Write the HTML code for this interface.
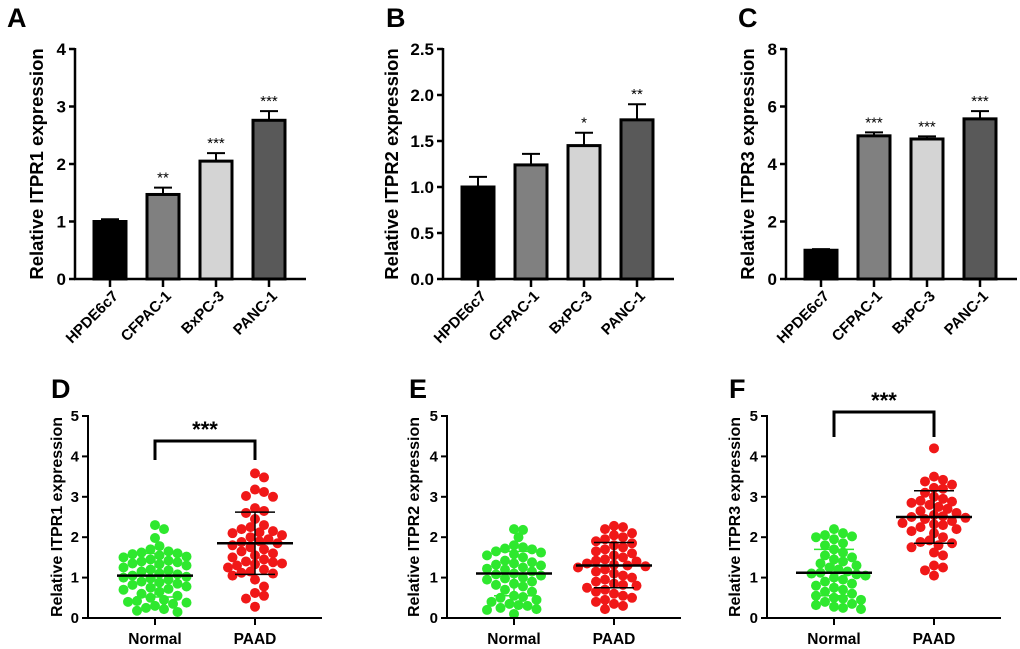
<!DOCTYPE html>
<html><head><meta charset="utf-8"><style>
html,body{margin:0;padding:0;background:#fff;}
svg{display:block;font-family:"Liberation Sans",Arial,sans-serif;font-weight:bold;}
</style></head>
<body>
<svg id="fig" width="1020" height="649" viewBox="0 0 1020 649"></svg>
<script>
// ---- bar chart data ----
const barCategories = ["HPDE6c7","CFPAC-1","BxPC-3","PANC-1"];
const barColors = ["#000000","#808080","#d4d4d4","#595959"];
const itpr1Means = [1.0,1.47,2.05,2.76];
const itpr1Errors = [0.04,0.12,0.14,0.16];
const itpr1Stars = ["","**","***","***"];
const itpr2Means = [1.0,1.24,1.45,1.73];
const itpr2Errors = [0.11,0.12,0.14,0.17];
const itpr2Stars = ["","","*","**"];
const itpr3Means = [1.0,4.98,4.87,5.57];
const itpr3Errors = [0.04,0.12,0.09,0.27];
const itpr3Stars = ["","***","***","***"];
const ticksA = [0,1,2,3,4];
const ticksB = [0,0.5,1.0,1.5,2.0,2.5];
const ticksC = [0,2,4,6,8];
// ---- scatter data ----
const scatterCategories = ["Normal","PAAD"];
const ticksScatter = [0,1,2,3,4,5];
const dNormal = [2.3,2.2,1.98,1.78,1.7,1.65,1.62,1.6,1.58,1.55,1.52,1.5,1.45,1.42,1.4,1.38,1.35,1.33,1.3,1.25,1.2,1.18,1.15,1.1,1.08,1.05,1.02,1.0,0.98,0.95,0.9,0.88,0.85,0.82,0.78,0.75,0.72,0.7,0.65,0.6,0.55,0.5,0.45,0.42,0.4,0.38,0.35,0.3,0.25,0.22,0.18,0.15];
const dPAAD = [3.58,3.48,3.18,3.12,3.02,3.0,2.72,2.65,2.6,2.45,2.3,2.25,2.2,2.15,2.12,2.1,2.05,2.0,1.95,1.9,1.88,1.85,1.8,1.75,1.7,1.65,1.6,1.55,1.5,1.45,1.4,1.38,1.35,1.33,1.3,1.25,1.2,1.15,1.12,1.1,1.05,0.95,0.78,0.62,0.55,0.48,0.28];
const eNormal = [2.2,2.18,2.0,1.8,1.75,1.72,1.7,1.65,1.62,1.58,1.55,1.5,1.42,1.38,1.35,1.32,1.3,1.25,1.22,1.2,1.15,1.1,1.08,1.05,1.0,0.98,0.95,0.9,0.85,0.82,0.78,0.7,0.65,0.55,0.52,0.5,0.45,0.4,0.35,0.32,0.3,0.25,0.22,0.2,0.1];
const ePAAD = [2.28,2.25,2.2,2.1,2.05,2.0,1.95,1.9,1.85,1.8,1.75,1.7,1.65,1.6,1.55,1.5,1.45,1.42,1.4,1.35,1.32,1.3,1.28,1.25,1.2,1.15,1.1,1.05,1.0,0.95,0.9,0.85,0.82,0.8,0.75,0.7,0.65,0.6,0.55,0.5,0.45,0.4,0.35,0.3,0.22];
const fNormal = [2.2,2.1,2.05,2.02,2.0,1.95,1.85,1.8,1.7,1.62,1.55,1.5,1.45,1.4,1.35,1.3,1.25,1.2,1.15,1.12,1.1,1.08,1.05,1.0,0.95,0.9,0.85,0.8,0.75,0.7,0.65,0.6,0.55,0.5,0.48,0.45,0.4,0.35,0.32,0.28,0.25,0.22];
const fPAAD = [4.2,3.5,3.42,3.38,3.3,3.22,3.2,3.1,3.0,2.95,2.9,2.88,2.85,2.8,2.75,2.7,2.65,2.6,2.55,2.52,2.5,2.48,2.45,2.4,2.35,2.32,2.3,2.25,2.2,2.15,2.1,2.0,1.92,1.88,1.85,1.8,1.75,1.62,1.55,1.3,1.25,1.18,1.05];
const dSummary = [[1.05,0.52,1.6],[1.85,1.08,2.62]];
const eSummary = [[1.1,0.55,1.65],[1.3,0.75,1.87]];
const fSummary = [[1.12,0.55,1.7],[2.5,1.85,3.15]];

const NS="http://www.w3.org/2000/svg";
const svg=document.getElementById('fig');
function mk(tag,attrs,parent,text){const e=document.createElementNS(NS,tag);for(const k in attrs)e.setAttribute(k,attrs[k]);if(text!==undefined)e.textContent=text;(parent||svg).appendChild(e);return e;}

function panelLetter(letter,x,y){
  const t=mk('text',{x:x,y:y,'font-size':27});
  t.textContent=letter;
  
  
}

function barPanel(id,ax,ymax,ticks,means,errs,stars,title,titleX,tickFmt){
  const g=mk('g',{});
  
  
  const y0=279,yTop=49,xEnd=ax+231;
  const ys=v=>y0-(v/ymax)*(y0-yTop);
  const xs=i=>ax+35+i*53;
  ticks.forEach(v=>{
    mk('line',{x1:ax-6,x2:ax,y1:ys(v),y2:ys(v),stroke:'#000','stroke-width':2.5},g);
    const t=mk('text',{x:ax-9,y:ys(v)+6,'text-anchor':'end','font-size':17},g,tickFmt(v));
    
    
  });
  means.forEach((m,i)=>{
    const cx=xs(i);
    const eTop=ys(m+errs[i]);
    mk('line',{x1:cx,x2:cx,y1:ys(m),y2:eTop,stroke:'#000','stroke-width':2},g);
    mk('line',{x1:cx-9,x2:cx+9,y1:eTop,y2:eTop,stroke:'#000','stroke-width':2},g);
    const r=mk('rect',{x:cx-16,y:ys(m),width:32,height:y0-ys(m),fill:barColors[i],stroke:'#000','stroke-width':3},g);
    
    
    if(stars[i]){
      const s=mk('text',{x:cx,y:eTop-5,'text-anchor':'middle','font-size':15,'font-weight':'normal'},g,stars[i]);
      
      
    }
    mk('line',{x1:cx,x2:cx,y1:y0,y2:y0+8,stroke:'#000','stroke-width':2.5},g);
    const lt=mk('text',{x:cx+9,y:y0+18,'text-anchor':'end','font-size':15,transform:`rotate(-45 ${cx+9} ${y0+18})`},g,barCategories[i]);
    
    
  });
  mk('line',{x1:ax,x2:ax,y1:yTop-1,y2:y0,stroke:'#000','stroke-width':2.5},g);
  mk('line',{x1:ax-1,x2:xEnd,y1:y0,y2:y0,stroke:'#000','stroke-width':2.5},g);
  const yt=mk('text',{x:titleX,y:164,'text-anchor':'middle','font-size':18.5,transform:`rotate(-90 ${titleX} 164)`},g,title);
  
  
}

function swarm(vals,cx,ys){
  const placed=[];const d=8.5;
  const cands=[0];for(let k=1;k<=8;k++){cands.push(k*4.5);cands.push(-k*4.5);}
  vals.forEach(v=>{
    const y=ys(v);
    let best=null,bestD=-1;
    for(const off of cands){
      const x=cx+off;
      let md=1e9;placed.forEach(p=>{const dd=Math.hypot(p[0]-x,p[1]-y);if(dd<md)md=dd;});
      if(md>=d){best=x;break;}
      if(md>bestD){bestD=md;best=x;}
    }
    placed.push([best,y]);
  });
  return placed;
}

function scatterPanel(id,ax,groups,summary,title,titleX,bracket){
  const g=mk('g',{});
  
  
  const y0=618,yTop=416,ymax=5,xEnd=ax+234;
  const ys=v=>y0-(v/ymax)*(y0-yTop);
  const xs=i=>ax+67+i*100;
  const colors=['#2ee82e','#f01818'];
  const sdCol=['#2ee82e','#000'];
  ticksScatter.forEach(v=>{
    mk('line',{x1:ax-6,x2:ax,y1:ys(v),y2:ys(v),stroke:'#000','stroke-width':2},g);
    const t=mk('text',{x:ax-9,y:ys(v)+5,'text-anchor':'end','font-size':15},g,String(v));
    
    
  });
  groups.forEach((vals,i)=>{
    const cx=xs(i);
    swarm(vals,cx,ys).forEach(p=>{
      const c=mk('circle',{cx:p[0],cy:p[1],r:5,fill:colors[i]},g);
      
      
    });
    const [m,lo,hi]=summary[i];
    mk('line',{x1:cx,x2:cx,y1:ys(lo),y2:ys(hi),stroke:sdCol[i],'stroke-width':1.5},g);
    mk('line',{x1:cx-20,x2:cx+20,y1:ys(lo),y2:ys(lo),stroke:sdCol[i],'stroke-width':1.5},g);
    mk('line',{x1:cx-20,x2:cx+20,y1:ys(hi),y2:ys(hi),stroke:sdCol[i],'stroke-width':1.5},g);
    const ml=mk('line',{x1:cx-38,x2:cx+38,y1:ys(m),y2:ys(m),stroke:'#000','stroke-width':2.5},g);
    
    
    mk('line',{x1:cx,x2:cx,y1:y0,y2:y0+7,stroke:'#000','stroke-width':2},g);
    const lt=mk('text',{x:cx,y:y0+26,'text-anchor':'middle','font-size':15.5},g,scatterCategories[i]);
    
    
  });
  mk('line',{x1:ax,x2:ax,y1:yTop-1,y2:y0,stroke:'#000','stroke-width':2},g);
  mk('line',{x1:ax-1,x2:xEnd,y1:y0,y2:y0,stroke:'#000','stroke-width':2},g);
  if(bracket){
    const x1=xs(0),x2=xs(1);
    const b=mk('polyline',{points:`${x1},${bracket[1]} ${x1},${bracket[0]} ${x2},${bracket[0]} ${x2},${bracket[1]}`,fill:'none',stroke:'#000','stroke-width':3},g);
    
    
    const s=mk('text',{x:(x1+x2)/2,y:bracket[0]-4,'text-anchor':'middle','font-size':22},g,'***');
    
    
  }
  const cy=517;
  const yt=mk('text',{x:titleX,y:cy,'text-anchor':'middle','font-size':16,transform:`rotate(-90 ${titleX} ${cy})`},g,title);
  
  
}

const fmtInt=v=>String(v), fmt1=v=>v.toFixed(1);
barPanel('a',75,4,ticksA,itpr1Means,itpr1Errors,itpr1Stars,'Relative ITPR1 expression',43,fmtInt);
barPanel('b',443,2.5,ticksB,itpr2Means,itpr2Errors,itpr2Stars,'Relative ITPR2 expression',398,fmt1);
barPanel('c',786,8,ticksC,itpr3Means,itpr3Errors,itpr3Stars,'Relative ITPR3 expression',754,fmtInt);
scatterPanel('d',88,[dNormal,dPAAD],dSummary,'Relative ITPR1 expression',62,[441,460]);
scatterPanel('e',447,[eNormal,ePAAD],eSummary,'Relative ITPR2 expression',419,null);
scatterPanel('f',767,[fNormal,fPAAD],fSummary,'Relative ITPR3 expression',740,[412,437]);
panelLetter('A',7,27);panelLetter('B',386,27);panelLetter('C',738,27);
panelLetter('D',51,398);panelLetter('E',409,398);panelLetter('F',729,398);
</script>
</body></html>
